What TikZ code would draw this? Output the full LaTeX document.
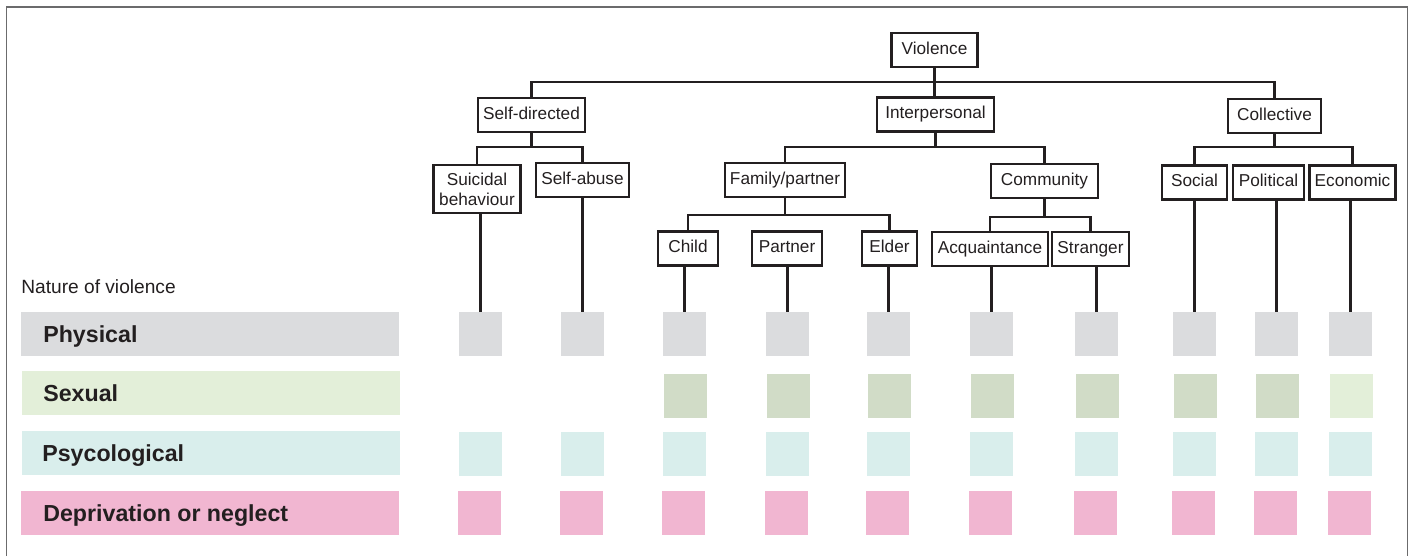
\documentclass[tikz,border=0pt]{standalone}
\usepackage{fontspec}
\setmainfont{Liberation Sans}
\usepackage{tikz}

\definecolor{physgray}{HTML}{DBDCDE}
\definecolor{sexgreen}{HTML}{E3EFD9}
\definecolor{sexdark}{HTML}{D1DCC7}
\definecolor{psyteal}{HTML}{D9EEEC}
\definecolor{negpink}{HTML}{F1B6D1}
\definecolor{framegray}{HTML}{6B6B6C}
\definecolor{ink}{HTML}{231F20}

\begin{document}
\begin{tikzpicture}[x=0.02cm,y=-0.02cm,
    twoline/.style={draw=ink, line width=1.3pt, inner xsep=3pt, inner ysep=4.5pt,
      minimum height=6.8mm, text=ink, font=\fontsize{9.8}{11.5}\selectfont},
    box/.style={twoline, text height=7.2pt, text depth=2.1pt},
    kind/.style={anchor=base west, text=ink, inner sep=0pt,
      font=\fontsize{13.2}{15}\selectfont\bfseries},
    sq/.style={minimum width=8.6mm, minimum height=8.8mm, inner sep=0pt}]

    \useasboundingbox (0,0) rectangle (1412,556);

    \draw[framegray, line width=1.1pt] (6.5,556) -- (6.5,7) -- (1407.5,7) -- (1407.5,556);

    % tree
    \node[box, minimum width=17.2mm] (viol) at (934.5,50) {Violence};

    \node[box, minimum width=21.2mm] (selfdir) at (531.5,115) {Self-directed};
    \node[box, minimum width=23.4mm] (interp) at (935.5,114.5) {Interpersonal};
    \node[box, minimum width=18.6mm] (coll) at (1274.5,116) {Collective};

    \node[twoline, minimum width=17.4mm, align=center] (suic) at (477,189) {Suicidal\\behaviour};
    \node[box, minimum width=18.6mm] (selfab) at (582.5,180) {Self-abuse};
    \node[box, minimum width=23.2mm] (fam) at (785,180) {Family/partner};
    \node[box, minimum width=21.4mm] (comm) at (1044.5,181) {Community};
    \node[box, minimum width=13mm] (social) at (1194.5,182.5) {Social};
    \node[box, minimum width=14.2mm] (polit) at (1268.5,182.5) {Political};
    \node[box, minimum width=16.2mm] (econ) at (1352.5,182.5) {Economic};

    \node[box, minimum width=12mm] (child) at (688,248.5) {Child};
    \node[box, minimum width=14mm] (partner) at (787,248.5) {Partner};
    \node[box, minimum width=11mm] (elder) at (889.5,248.5) {Elder};
    \node[box, minimum width=23.2mm] (acq) at (990,249) {Acquaintance};
    \node[box, minimum width=15mm] (stranger) at (1090.5,249) {Stranger};

    \begin{scope}[ink, line width=1.3pt]
      \draw (viol.south) -- (viol.south |- interp.north);
      \draw (selfdir.north) |- (coll.north |- 0,82) -- (coll.north);

      \draw (selfdir.south) -- (selfdir.south |- 0,147);
      \draw (suic.north) |- (selfab.north |- 0,147) -- (selfab.north);

      \draw (interp.south) -- (interp.south |- 0,147);
      \draw (fam.north) |- (comm.north |- 0,147) -- (comm.north);

      \draw (coll.south) -- (coll.south |- 0,147);
      \draw (social.north) |- (econ.north |- 0,147) -- (econ.north);

      \draw (fam.south) -- (fam.south |- 0,215);
      \draw (child.north) |- (elder.north |- 0,215) -- (elder.north);

      \draw (comm.south) -- (comm.south |- 0,217);
      \draw (acq.north) |- (stranger.north |- 0,217) -- (stranger.north);
    \end{scope}

    % nature of violence
    \node[anchor=west, inner sep=0pt, text=ink, font=\fontsize{10.9}{13}\selectfont]
      (nature) at (21,287) {Nature of violence};

    \fill[physgray] (21,312) rectangle (399,356);
    \node[kind] (phys) at (43,342) {Physical};

    \fill[sexgreen] (22,371) rectangle (400,415);
    \node[kind] (sex) at (43,401) {Sexual};

    \fill[psyteal] (22,431) rectangle (400,475);
    \node[kind] (psy) at (42,461) {Psycological};

    \fill[negpink] (21,491) rectangle (399,535);
    \node[kind] (neg) at (43,521) {Deprivation or neglect};

    % physical
    \node[sq, fill=physgray] (p1) at (480.5,334) {};
    \node[sq, fill=physgray] (p2) at (582.5,334) {};
    \node[sq, fill=physgray] (p3) at (684.5,334) {};
    \node[sq, fill=physgray] (p4) at (787.5,334) {};
    \node[sq, fill=physgray] (p5) at (888.5,334) {};
    \node[sq, fill=physgray] (p6) at (991.5,334) {};
    \node[sq, fill=physgray] (p7) at (1096.5,334) {};
    \node[sq, fill=physgray] (p8) at (1194.5,334) {};
    \node[sq, fill=physgray] (p9) at (1276.5,334) {};
    \node[sq, fill=physgray] (p10) at (1350.5,334) {};

    % sexual
    \node[sq, fill=sexdark] (s3) at (685.5,396) {};
    \node[sq, fill=sexdark] (s4) at (788.5,396) {};
    \node[sq, fill=sexdark] (s5) at (889.5,396) {};
    \node[sq, fill=sexdark] (s6) at (992.5,396) {};
    \node[sq, fill=sexdark] (s7) at (1097.5,396) {};
    \node[sq, fill=sexdark] (s8) at (1195.5,396) {};
    \node[sq, fill=sexdark] (s9) at (1277.5,396) {};
    \node[sq, fill=sexgreen] (s10) at (1351.5,396) {};

    % psycological
    \node[sq, fill=psyteal] (y1) at (480.5,454) {};
    \node[sq, fill=psyteal] (y2) at (582.5,454) {};
    \node[sq, fill=psyteal] (y3) at (684.5,454) {};
    \node[sq, fill=psyteal] (y4) at (787.5,454) {};
    \node[sq, fill=psyteal] (y5) at (888.5,454) {};
    \node[sq, fill=psyteal] (y6) at (991.5,454) {};
    \node[sq, fill=psyteal] (y7) at (1096.5,454) {};
    \node[sq, fill=psyteal] (y8) at (1194.5,454) {};
    \node[sq, fill=psyteal] (y9) at (1276.5,454) {};
    \node[sq, fill=psyteal] (y10) at (1350.5,454) {};

    % deprivation or neglect
    \node[sq, fill=negpink] (d1) at (479.5,513) {};
    \node[sq, fill=negpink] (d2) at (581.5,513) {};
    \node[sq, fill=negpink] (d3) at (683.5,513) {};
    \node[sq, fill=negpink] (d4) at (786.5,513) {};
    \node[sq, fill=negpink] (d5) at (887.5,513) {};
    \node[sq, fill=negpink] (d6) at (990.5,513) {};
    \node[sq, fill=negpink] (d7) at (1095.5,513) {};
    \node[sq, fill=negpink] (d8) at (1193.5,513) {};
    \node[sq, fill=negpink] (d9) at (1275.5,513) {};
    \node[sq, fill=negpink] (d10) at (1349.5,513) {};

    % drop lines
    \begin{scope}[ink, line width=1.3pt]
      \draw (p1.north |- suic.south) -- (p1.north);
      \draw (p2.north |- selfab.south) -- (p2.north);
      \draw (p3.north |- child.south) -- (p3.north);
      \draw (p4.north |- partner.south) -- (p4.north);
      \draw (p5.north |- elder.south) -- (p5.north);
      \draw (p6.north |- acq.south) -- (p6.north);
      \draw (p7.north |- stranger.south) -- (p7.north);
      \draw (p8.north |- social.south) -- (p8.north);
      \draw (p9.north |- polit.south) -- (p9.north);
      \draw (p10.north |- econ.south) -- (p10.north);
    \end{scope}

  \end{tikzpicture}
\end{document}
